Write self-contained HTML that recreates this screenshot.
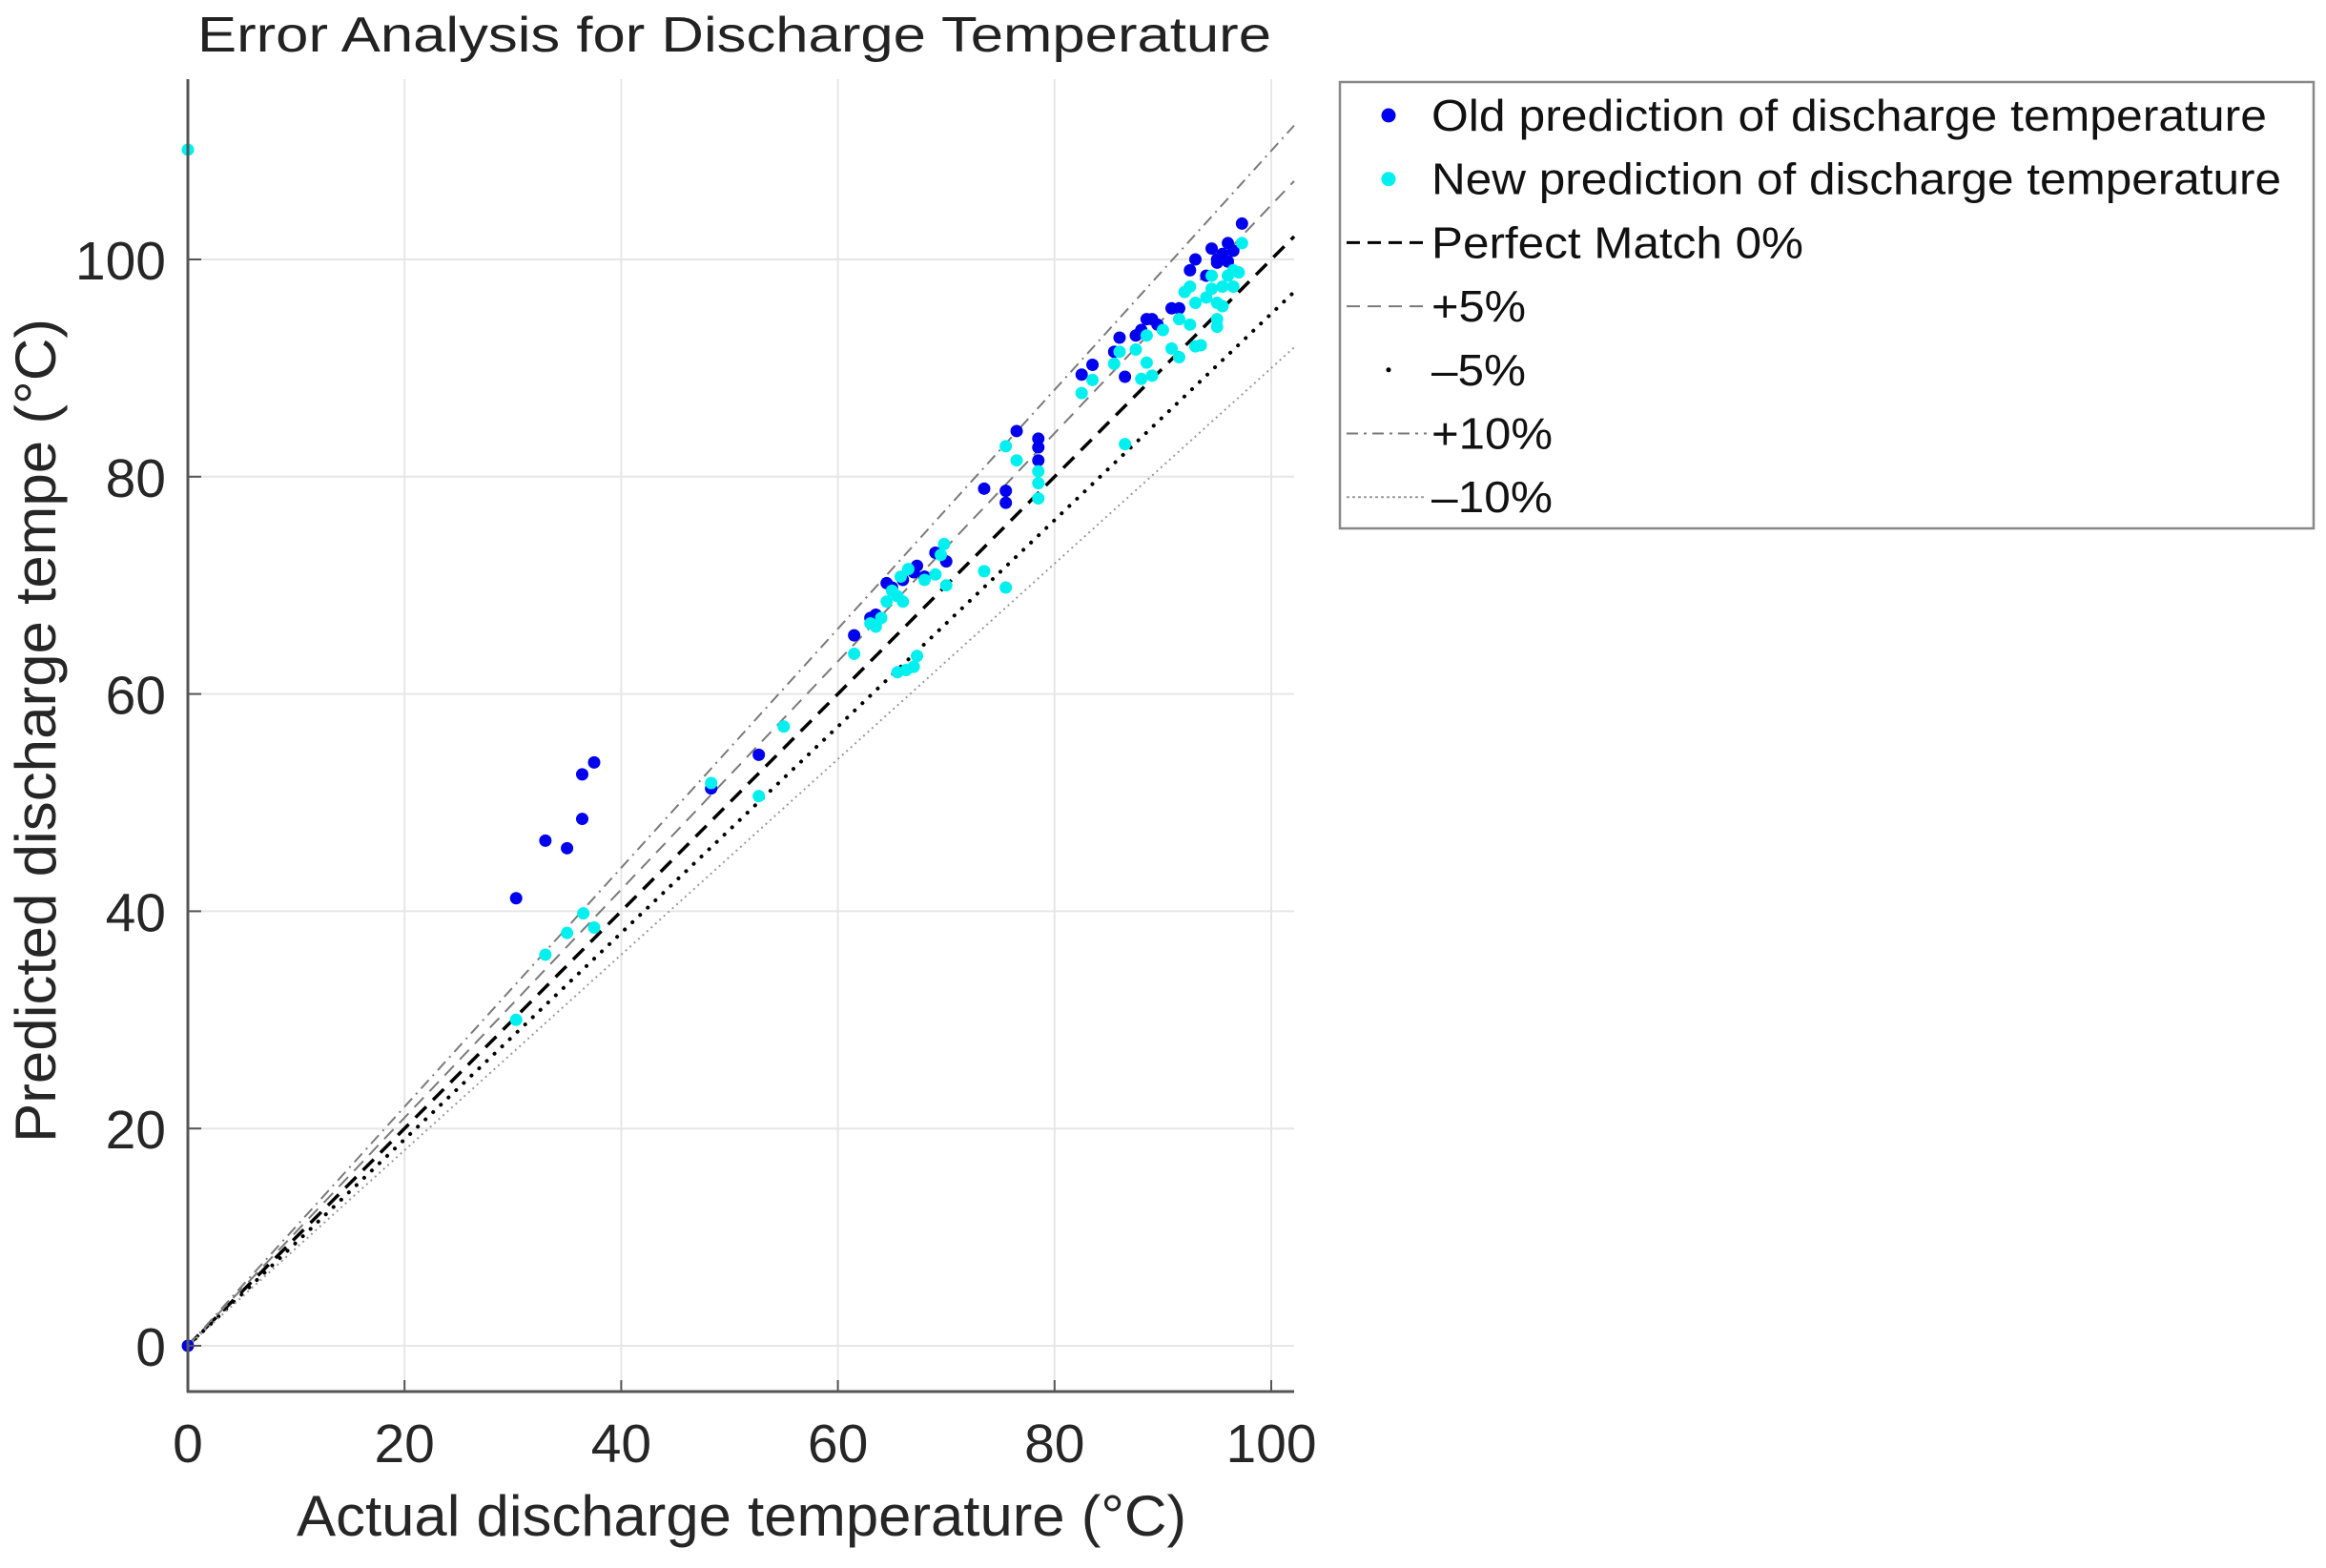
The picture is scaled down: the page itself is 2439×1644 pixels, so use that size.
<!DOCTYPE html>
<html><head><meta charset="utf-8"><style>
html,body{margin:0;padding:0;background:#fff;}
svg{display:block;font-family:"Liberation Sans",Arial,sans-serif;}
</style></head><body>
<svg id="chart" width="2439" height="1644" viewBox="0 0 2439 1644" xmlns="http://www.w3.org/2000/svg">
<rect width="2439" height="1644" fill="#fff"/>
<text x="207" y="54" font-size="52" fill="#222" textLength="1126" lengthAdjust="spacingAndGlyphs">Error Analysis for Discharge Temperature</text>
<g id="grid"></g>
<g id="reflines"></g>
<g id="points"></g>
<g id="axes"></g>
<text x="311" y="1610" font-size="60" fill="#262626" textLength="933" lengthAdjust="spacingAndGlyphs">Actual discharge temperature (°C)</text>
<text transform="translate(58,1198) rotate(-90)" x="0" y="0" font-size="60" fill="#262626" textLength="864" lengthAdjust="spacingAndGlyphs">Predicted discharge tempe (°C)</text>
<g id="legend"></g>
</svg>
<script>
const xTicks = [0, 20, 40, 60, 80, 100];
const yTicks = [0, 20, 40, 60, 80, 100];
const xTickLabels = ["0", "20", "40", "60", "80", "100"];
const yTickLabels = ["0", "20", "40", "60", "80", "100"];
const refPercents = [0, 5, -5, 10, -10];
const refNames = ["Perfect Match 0%", "+5%", "–5%", "+10%", "–10%"];
const oldX = [0,30.3,33,35,36.4,36.4,37.5,48.3,52.7,61.5,63,63.5,64.5,65,66,67,67.3,68,69,70,73.5,75.5,75.5,76.5,78.5,78.5,78.5,82.5,83.5,85.5,86,86.5,87.5,88,88.5,89,89.5,90.8,91.5,92.5,93,94,94.5,95,95.5,96,96.5,97.3,95,96];
const oldY = [0,41.2,46.5,45.8,48.5,52.6,53.7,51.3,54.4,65.4,67,67.3,70.2,69.8,70.5,71.2,71.8,70.8,73,72.2,78.9,77.6,78.7,84.2,83.5,82.7,81.5,89.4,90.3,91.5,92.8,89.2,93,93.5,94.5,94.5,94,95.5,95.5,99,100,98.5,101,100,100.5,101.5,100.8,103.3,99.7,99.8];
const newX = [0,30.3,33,35,36.5,37.5,48.3,52.7,55,61.5,63,63.5,64,64.5,65,65.5,65.8,66,66.5,65.5,66.3,67,67.3,68,69,69.5,69.8,70,73.5,75.5,75.5,76.5,78.5,78.5,78.5,82.5,83.5,85.5,86,86.5,87.5,88,88.5,88.5,89,90,90.8,91.5,91.5,92,92.5,92.5,93,93,93.5,94,94.5,95,94.5,95,95.5,95.5,96,96.5,96.5,97,97.3,95];
const newY = [110.1,30,36,38,39.8,38.5,51.8,50.6,57,63.7,66.5,66.2,67,68.5,69.5,69,70.8,68.5,71.5,62,62.2,62.5,63.5,70.5,71,72.8,73.8,70,71.3,69.8,82.8,81.5,80.5,79.4,78,87.7,88.9,90.4,91.5,83,91.7,89,90.5,93,89.3,93.5,91.8,94.5,91,97,97.5,94,96,92,92.1,96.5,97.3,94.5,98.5,96,95.7,97.5,98.5,99,97.5,98.8,101.5,93.8];

const X0 = 197, XS = 11.36, Y0 = 1411, YS = 11.39;
const XMAX = (1357 - X0) / XS;
function sx(v){ return X0 + v * XS; }
function sy(v){ return Y0 - v * YS; }
const NS = "http://www.w3.org/2000/svg";
function mk(tag, attrs, parent){ const e = document.createElementNS(NS, tag); for (const k in attrs) e.setAttribute(k, attrs[k]); parent.appendChild(e); return e; }

const grid = document.getElementById('grid');
xTicks.forEach((t) => {
  if (t > 0) {
    const l = mk('line', {x1: sx(t), x2: sx(t), y1: 83, y2: 1459, stroke: '#e6e6e6', 'stroke-width': 2}, grid);
    
    
  }
});
yTicks.forEach((t) => {
  const l = mk('line', {x1: 197, x2: 1357, y1: sy(t), y2: sy(t), stroke: '#e6e6e6', 'stroke-width': 2}, grid);
  
  
});

const styles = [
  {stroke: '#000', w: 3.5, dash: '16 10'},
  {stroke: '#7a7a7a', w: 2, dash: '14 9'},
  {stroke: '#000', w: 4, dash: '0.1 11', cap: 'round'},
  {stroke: '#7a7a7a', w: 2, dash: '12 6 2 6'},
  {stroke: '#9a9a9a', w: 2, dash: '2 4'}
];
const ref = document.getElementById('reflines');
refPercents.forEach((p, i) => {
  const f = 1 + p / 100;
  const st = styles[i];
  const l = mk('line', {x1: sx(0), y1: sy(0), x2: sx(XMAX), y2: sy(XMAX * f), stroke: st.stroke, 'stroke-width': st.w, 'stroke-dasharray': st.dash, 'stroke-linecap': st.cap || 'butt'}, ref);
  
  
});

const pts = document.getElementById('points');
oldX.forEach((v, i) => {
  const c = mk('circle', {cx: sx(v), cy: sy(oldY[i]), r: 6.5, fill: '#0000ee'}, pts);
  
  
});
newX.forEach((v, i) => {
  const c = mk('circle', {cx: sx(v), cy: sy(newY[i]), r: 6.5, fill: '#00f0f0'}, pts);
  
  
});

const ax = document.getElementById('axes');
const ya = mk('line', {x1: 197, x2: 197, y1: 83, y2: 1460, stroke: '#555', 'stroke-width': 3}, ax);


const xa = mk('line', {x1: 196, x2: 1357, y1: 1459, y2: 1459, stroke: '#555', 'stroke-width': 3}, ax);


xTicks.forEach((t, i) => {
  mk('line', {x1: sx(t), x2: sx(t), y1: 1459, y2: 1447, stroke: '#555', 'stroke-width': 2}, ax);
  const tx = mk('text', {x: sx(t), y: 1533, 'font-size': 57, fill: '#262626', 'text-anchor': 'middle'}, ax);
  tx.textContent = xTickLabels[i];
  
  
});
yTicks.forEach((t, i) => {
  mk('line', {x1: 197, x2: 211, y1: sy(t), y2: sy(t), stroke: '#555', 'stroke-width': 2}, ax);
  const tx = mk('text', {x: 174, y: sy(t) + 21, 'font-size': 57, fill: '#262626', 'text-anchor': 'end'}, ax);
  tx.textContent = yTickLabels[i];
  
  
});

const lg = document.getElementById('legend');
const box = mk('rect', {x: 1405, y: 86, width: 1021, height: 468, fill: '#fff', stroke: '#888', 'stroke-width': 2.5}, lg);


const entries = [
  {label: 'Old prediction of discharge temperature', len: 876, kind: 'dot', color: '#0000ee'},
  {label: 'New prediction of discharge temperature', len: 891, kind: 'dot', color: '#00f0f0'}
];
refNames.forEach((n, i) => entries.push({label: n, len: [390, 99, 99, 127, 127][i], kind: 'line', st: styles[i]}));
const legDash = [null, null, '14 8', '14 8', null, '12 6 3 6', '3 3'];
entries.forEach((e, i) => {
  const cy = 121 + i * 66.7;
  const g = mk('g', {}, lg);
  
  
  if (e.kind === 'dot') {
    mk('circle', {cx: 1456, cy: cy, r: 7.5, fill: e.color}, g);
  } else if (i === 4) {
    mk('circle', {cx: 1456, cy: cy, r: 2.5, fill: '#000'}, g);
  } else {
    mk('line', {x1: 1412, x2: 1496, y1: cy, y2: cy, stroke: e.st.stroke, 'stroke-width': Math.min(e.st.w, 3), 'stroke-dasharray': legDash[i]}, g);
  }
  const t = mk('text', {x: 1501, y: cy + 16, 'font-size': 46, fill: '#111', textLength: e.len, lengthAdjust: 'spacingAndGlyphs'}, g);
  t.textContent = e.label;
});
</script>
</body></html>
